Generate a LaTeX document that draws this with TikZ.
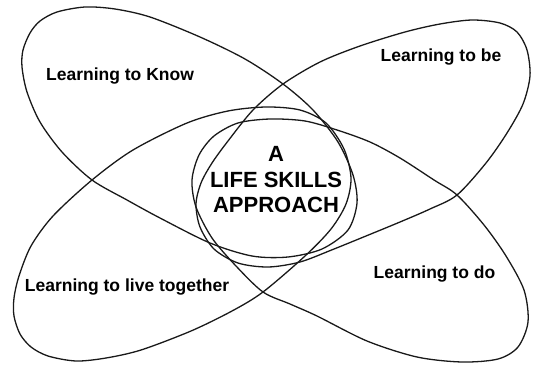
\documentclass[tikz,border=0pt]{standalone}
\usepackage{fontspec}
\setmainfont{Liberation Sans}
\begin{document}
\begin{tikzpicture}[x=1pt,y=-1pt,
  petal/.style={draw=black!90, line width=1.3pt},
  lbl/.style={font=\fontsize{17.5}{21}\selectfont\bfseries, anchor=base, inner sep=0pt},
  ctr/.style={font=\fontsize{22}{26}\selectfont\bfseries, anchor=base, inner sep=0pt}]
\useasboundingbox (0,0) rectangle (535,364);
% Learning to Know petal (top-left)
\draw[petal] plot[smooth cycle] coordinates {(23,50) (30,33) (40,21) (57,12) (85,7) (115,9) (150,17) (200,37) (245,59) (283,84) (313,110) (338,142) (353,175) (357,203) (348,230) (322,249) (288,257) (252,256) (210,243) (160,218) (127,200) (92,180) (62,152) (40,122) (27,92) (22,67)};
% Learning to be petal (top-right)
\draw[petal] plot[smooth cycle] coordinates {(283,84) (320,62) (360,46) (405,32) (440,24) (472,20) (500,23) (517,32) (527,50) (530,76) (523,104) (507,133) (486,163) (457,195) (430,209) (400,222) (366,236) (334,249) (300,262) (268,267) (238,263) (214,249) (200,227) (196,204) (201,183) (212,163) (228,141) (253,110)};
% Learning to do petal (bottom-right)
\draw[petal] plot[smooth cycle] coordinates {(263,292) (290,304) (317,316) (367,341) (417,357) (462,362) (498,359) (518,347) (528,322) (524,290) (506,256) (484,225) (457,195) (434,180) (400,158) (370,142) (337,130) (305,121) (270,119) (238,123) (214,136) (199,155) (192,180) (196,207) (212,238) (236,266)};
% Learning to live together petal (bottom-left)
\draw[petal] plot[smooth cycle] coordinates {(92,180) (133,150) (187,123) (228,111) (266,107) (300,110) (326,123) (344,149) (351,178) (346,204) (331,229) (305,256) (263,292) (232,311) (191,331) (141,350) (106,358) (76,361) (48,356) (31,347) (20,334) (14,316) (14,298) (19,276) (31,246) (53,216)};
% labels
\node[lbl] (know) at (120,80) {Learning to Know};
\node[lbl] (be) at (441,61) {Learning to be};
\node[lbl] (live) at (127,291) {Learning to live together};
\node[lbl] (do) at (434.5,278) {Learning to do};
\node[ctr] (ca) at (276,161) {A};
\node[ctr] (cb) at (276,187.3) {LIFE SKILLS};
\node[ctr] (cc) at (276,212.7) {APPROACH};
\end{tikzpicture}
\end{document}
